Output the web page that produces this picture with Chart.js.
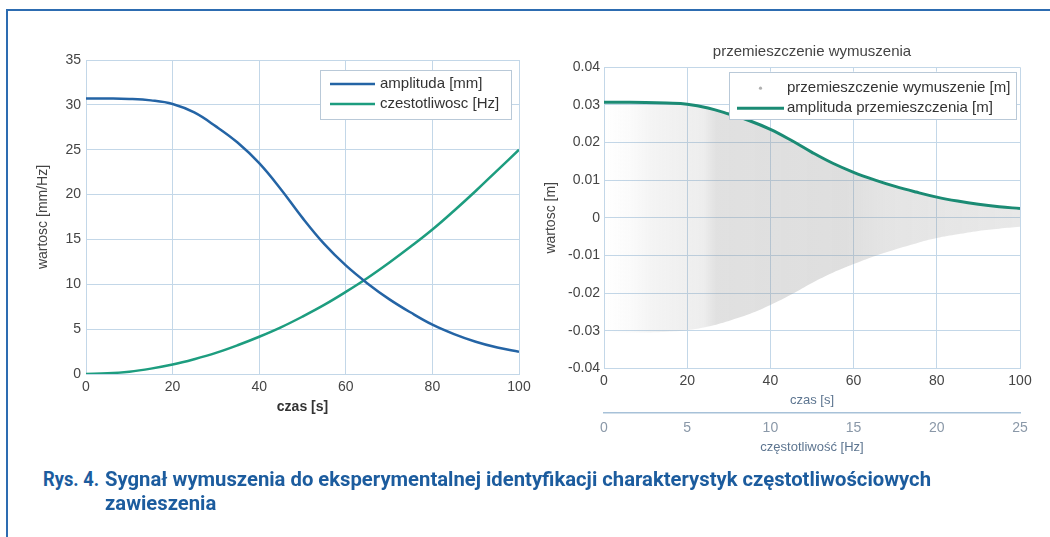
<!DOCTYPE html>
<html>
<head>
<meta charset="utf-8">
<script src="https://cdn.jsdelivr.net/npm/chart.js@4.4.1/dist/chart.umd.min.js"></script>
<style>
html,body{margin:0;padding:0;background:#fff;}
body{width:1050px;height:537px;overflow:hidden;position:relative;font-family:"Liberation Sans",Arial,sans-serif;}
#frameTop{position:absolute;left:6px;top:9px;width:1044px;height:2px;background:#2d6cb1;}
#frameLeft{position:absolute;left:6px;top:9px;width:2px;height:528px;background:#2d6cb1;}
#w1{position:absolute;left:0;top:40px;width:540px;height:400px;}
#w2{position:absolute;left:530px;top:30px;width:520px;height:440px;}
.cap{position:absolute;top:467px;font-family:Roboto,"Noto Sans",sans-serif;font-weight:700;font-size:20.5px;line-height:24px;color:#1c5c9e;white-space:nowrap;transform-origin:0 0;}
#capNum{left:43px;}
#capTxt{left:105px;}
</style>
</head>
<body>
<div id="frameTop"></div>
<div id="frameLeft"></div>
<div id="w1"><canvas id="c1" width="540" height="400"></canvas></div>
<div id="w2"><canvas id="c2" width="520" height="440"></canvas></div>
<div id="capNum" class="cap">Rys. 4.</div>
<div id="capTxt" class="cap"><span id="capLine1">Sygnał wymuszenia do eksperymentalnej identyfikacji charakterystyk częstotliwościowych</span><br>zawieszenia</div>
<script>
// ---------------- data ----------------
const timeS = [0,5,10,15,20,25,30,35,40,45,50,55,60,65,70,75,80,85,90,95,100];
const amplitudeMm = [30.7,30.7,30.66,30.5,30.1,29.15,27.6,25.8,23.5,20.6,17.4,14.5,12.1,10.1,8.35,6.85,5.5,4.45,3.6,2.95,2.47];
const frequencyHz = [0,0.07,0.26,0.6,1.05,1.65,2.35,3.2,4.15,5.2,6.4,7.7,9.15,10.7,12.4,14.2,16.1,18.2,20.4,22.7,25.0];
const amplitudeM = [0.0307,0.0307,0.03066,0.0305,0.0302,0.0292,0.0276,0.0258,0.0235,0.0206,0.0174,0.0145,0.0121,0.0101,0.00835,0.00685,0.0055,0.00445,0.0036,0.00295,0.00247];
const envelopeUpperM = [0.0306,0.0306,0.0306,0.0304,0.0301,0.0291,0.0275,0.0257,0.0234,0.0205,0.0173,0.0144,0.0120,0.0100,0.0083,0.0068,0.0054,0.0044,0.0035,0.0029,0.0024];
const envelopeLowerM = [-0.0305,-0.0305,-0.0305,-0.0303,-0.0299,-0.0289,-0.0274,-0.0256,-0.0232,-0.0204,-0.0173,-0.0146,-0.0123,-0.0102,-0.0084,-0.0068,-0.0054,-0.0044,-0.0035,-0.0029,-0.0024];

const leftXTicks = [0,20,40,60,80,100];
const leftYTicks = [0,5,10,15,20,25,30,35];
const rightXTicks = [0,20,40,60,80,100];
const rightYTicks = [-0.04,-0.03,-0.02,-0.01,0,0.01,0.02,0.03,0.04];
const freqAxisTicks = [0,5,10,15,20,25];

const leftLabels = ['amplituda [mm]','czestotliwosc [Hz]'];
const rightLabels = ['przemieszczenie wymuszenie [m]','amplituda przemieszczenia [m]'];

// ---------------- helpers ----------------
const pts = (xs, ys) => xs.map((x, i) => ({x: x, y: ys[i]}));
const FONT = '"Liberation Sans", Arial, sans-serif';
const GRID = '#c3d7e8';
const TICK = '#454545';

const insideLegend = {
  id: 'insideLegend',
  afterDatasetsDraw(chart, args, o) {
    const {ctx, chartArea} = chart;
    const right = chartArea.right - o.marginRight;
    const left = right - o.width;
    const top = chartArea.top + o.marginTop;
    ctx.save();
    ctx.fillStyle = '#ffffff';
    ctx.fillRect(left, top, o.width, o.height);
    ctx.strokeStyle = o.borderColor;
    ctx.lineWidth = 1;
    ctx.strokeRect(Math.round(left) + 0.5, Math.round(top) + 0.5, o.width - 1, o.height - 1);
    const items = chart.data.datasets.filter(d => d.legendRank !== undefined)
      .sort((a, b) => a.legendRank - b.legendRank);
    ctx.font = o.font;
    ctx.textBaseline = 'middle';
    items.forEach((ds, i) => {
      const y = top + o.firstRow + i * o.rowGap;
      const x0 = left + o.lineX;
      if (ds.legendStyle === 'dot') {
        ctx.fillStyle = '#b0b0b0';
        ctx.beginPath();
        ctx.arc(x0 + o.lineLen / 2, y, 1.6, 0, Math.PI * 2);
        ctx.fill();
      } else {
        ctx.strokeStyle = ds.borderColor;
        ctx.lineWidth = ds.borderWidth;
        ctx.beginPath();
        ctx.moveTo(x0, y);
        ctx.lineTo(x0 + o.lineLen, y);
        ctx.stroke();
      }
      ctx.fillStyle = o.color;
      ctx.fillText(ds.label, left + o.textX, y);
    });
    ctx.restore();
  }
};

const areaTitle = {
  id: 'areaTitle',
  afterDraw(chart, args, o) {
    if (!o.text) return;
    const {ctx, chartArea} = chart;
    ctx.save();
    ctx.font = o.font;
    ctx.fillStyle = o.color;
    ctx.textAlign = 'center';
    ctx.textBaseline = 'middle';
    ctx.fillText(o.text, (chartArea.left + chartArea.right) / 2, o.y);
    ctx.restore();
  }
};

const fixedTicks = arr => (scale) => { scale.ticks = arr.map(v => ({value: v})); };
const SMOOTH = {pointRadius: 0, fill: false, tension: 0.4, cubicInterpolationMode: 'default'};

// ---------------- left chart ----------------
new Chart(document.getElementById('c1'), {
  type: 'line',
  data: {
    datasets: [
      Object.assign({label: leftLabels[0], data: pts(timeS, amplitudeMm), borderColor: '#2464a5', borderWidth: 2.5,
        legendRank: 0}, SMOOTH),
      Object.assign({label: leftLabels[1], data: pts(timeS, frequencyHz), borderColor: '#1d9d7f', borderWidth: 2.5,
        legendRank: 1}, SMOOTH)
    ]
  },
  options: {
    responsive: false, animation: false, events: [],
    layout: {padding: {left: 0, right: 21, top: 20, bottom: 18}},
    plugins: {
      legend: {display: false}, tooltip: {enabled: false},
      insideLegend: {marginRight: 7, marginTop: 10, width: 192, height: 50, firstRow: 14, rowGap: 20,
                     lineX: 10, lineLen: 45, textX: 60, font: '15px ' + FONT, color: '#333', borderColor: '#b9c9d8'}
    },
    scales: {
      x: {type: 'linear', min: 0, max: 100, afterBuildTicks: fixedTicks(leftXTicks),
          afterFit: s => { s.height = 48; },
          grid: {color: GRID, drawTicks: false}, border: {color: GRID},
          ticks: {padding: 5, color: TICK, font: {family: FONT, size: 14}},
          title: {display: true, text: 'czas [s]', color: '#333', font: {family: FONT, size: 14, weight: 'bold'},
                  padding: {top: 0, bottom: 6}}},
      y: {type: 'linear', min: 0, max: 35, afterBuildTicks: fixedTicks(leftYTicks),
          afterFit: s => { s.width = 86; },
          grid: {color: GRID, drawTicks: false}, border: {color: GRID},
          ticks: {padding: 5, color: TICK, font: {family: FONT, size: 14}},
          title: {display: true, text: 'wartosc [mm/Hz]', color: '#444', font: {family: FONT, size: 14},
                  padding: {top: 34.6, bottom: 0}}}
    }
  },
  plugins: [insideLegend]
});

// ---------------- right chart ----------------
function bandFill(context) {
  const chart = context.chart;
  const a = chart.chartArea;
  if (!a) return 'rgba(150,150,150,0.25)';
  const g = chart.ctx.createLinearGradient(a.left, 0, a.right, 0);
  g.addColorStop(0.00, 'rgba(150,150,150,0.00)');
  g.addColorStop(0.06, 'rgba(150,150,150,0.04)');
  g.addColorStop(0.12, 'rgba(150,150,150,0.11)');
  g.addColorStop(0.24, 'rgba(150,150,150,0.17)');
  g.addColorStop(0.27, 'rgba(150,150,150,0.29)');
  g.addColorStop(0.58, 'rgba(150,150,150,0.31)');
  g.addColorStop(0.68, 'rgba(150,150,150,0.25)');
  g.addColorStop(1.00, 'rgba(150,150,150,0.22)');
  return g;
}

new Chart(document.getElementById('c2'), {
  type: 'line',
  data: {
    datasets: [
      Object.assign({label: rightLabels[1], data: pts(timeS, amplitudeM), borderColor: '#1b8b74', borderWidth: 3,
        order: 0, legendRank: 1}, SMOOTH),
      Object.assign({}, SMOOTH, {label: rightLabels[0], data: pts(timeS, envelopeUpperM), borderColor: 'rgba(0,0,0,0)',
        borderWidth: 0, backgroundColor: bandFill, fill: '+1', order: 1, legendRank: 0, legendStyle: 'dot'}),
      Object.assign({label: 'envelope lower', data: pts(timeS, envelopeLowerM), borderColor: 'rgba(0,0,0,0)',
        borderWidth: 0, order: 2}, SMOOTH)
    ]
  },
  options: {
    responsive: false, animation: false, events: [],
    layout: {padding: {left: 0, right: 30, top: 37.3, bottom: 12}},
    plugins: {
      legend: {display: false}, tooltip: {enabled: false}, title: {display: false},
      areaTitle: {text: 'przemieszczenie wymuszenia', y: 21.7, font: '15px ' + FONT, color: '#444'},
      insideLegend: {marginRight: 3, marginTop: 4.4, width: 288, height: 48, firstRow: 16.5, rowGap: 20,
                     lineX: 8, lineLen: 47, textX: 58, font: '15px ' + FONT, color: '#333', borderColor: '#b9c9d8'}
    },
    scales: {
      x: {type: 'linear', position: 'bottom', weight: 0, min: 0, max: 100, afterBuildTicks: fixedTicks(rightXTicks),
          afterFit: s => { s.height = 44.7; },
          grid: {color: GRID, drawTicks: false}, border: {color: GRID},
          ticks: {padding: 4, color: TICK, font: {family: FONT, size: 14}},
          title: {display: true, text: 'czas [s]', color: '#5d7590', font: {family: FONT, size: 13},
                  padding: {top: 0, bottom: 5.2}}},
      x2: {type: 'linear', position: 'bottom', weight: 1, min: 0, max: 25, afterBuildTicks: fixedTicks(freqAxisTicks),
          afterFit: s => { s.height = 45; },
          grid: {display: false, drawTicks: false}, border: {display: true, color: '#a7c1d8', width: 1.5},
          ticks: {padding: 6.9, color: '#8a98a8', font: {family: FONT, size: 14}},
          title: {display: true, text: 'częstotliwość [Hz]', color: '#5d7590', font: {family: FONT, size: 13},
                  padding: {top: 0, bottom: 2.5}}},
      y: {type: 'linear', min: -0.04, max: 0.04, afterBuildTicks: fixedTicks(rightYTicks),
          afterFit: s => { s.width = 74; },
          grid: {color: GRID, drawTicks: false}, border: {color: GRID},
          ticks: {padding: 4, color: TICK, font: {family: FONT, size: 14},
                  callback: v => (Math.abs(v) < 1e-9 ? '0' : v.toFixed(2))},
          title: {display: true, text: 'wartosc [m]', color: '#444', font: {family: FONT, size: 14},
                  padding: {top: 12.6, bottom: 0}}}
    }
  },
  plugins: [insideLegend, areaTitle]
});

// ---------------- caption fitting ----------------
(function () {
  const mc = document.createElement('canvas').getContext('2d');
  mc.font = '700 20.5px Roboto, "Noto Sans", sans-serif';
  const w = mc.measureText(document.getElementById('capLine1').textContent).width;
  const s = 826 / w;
  const wn = mc.measureText('Rys. 4.').width;
  const sn = 56 / wn;
  document.getElementById('capTxt').style.transform = 'scaleX(' + s + ')';
  document.getElementById('capNum').style.transform = 'scaleX(' + sn + ')';
})();
</script>
</body>
</html>
